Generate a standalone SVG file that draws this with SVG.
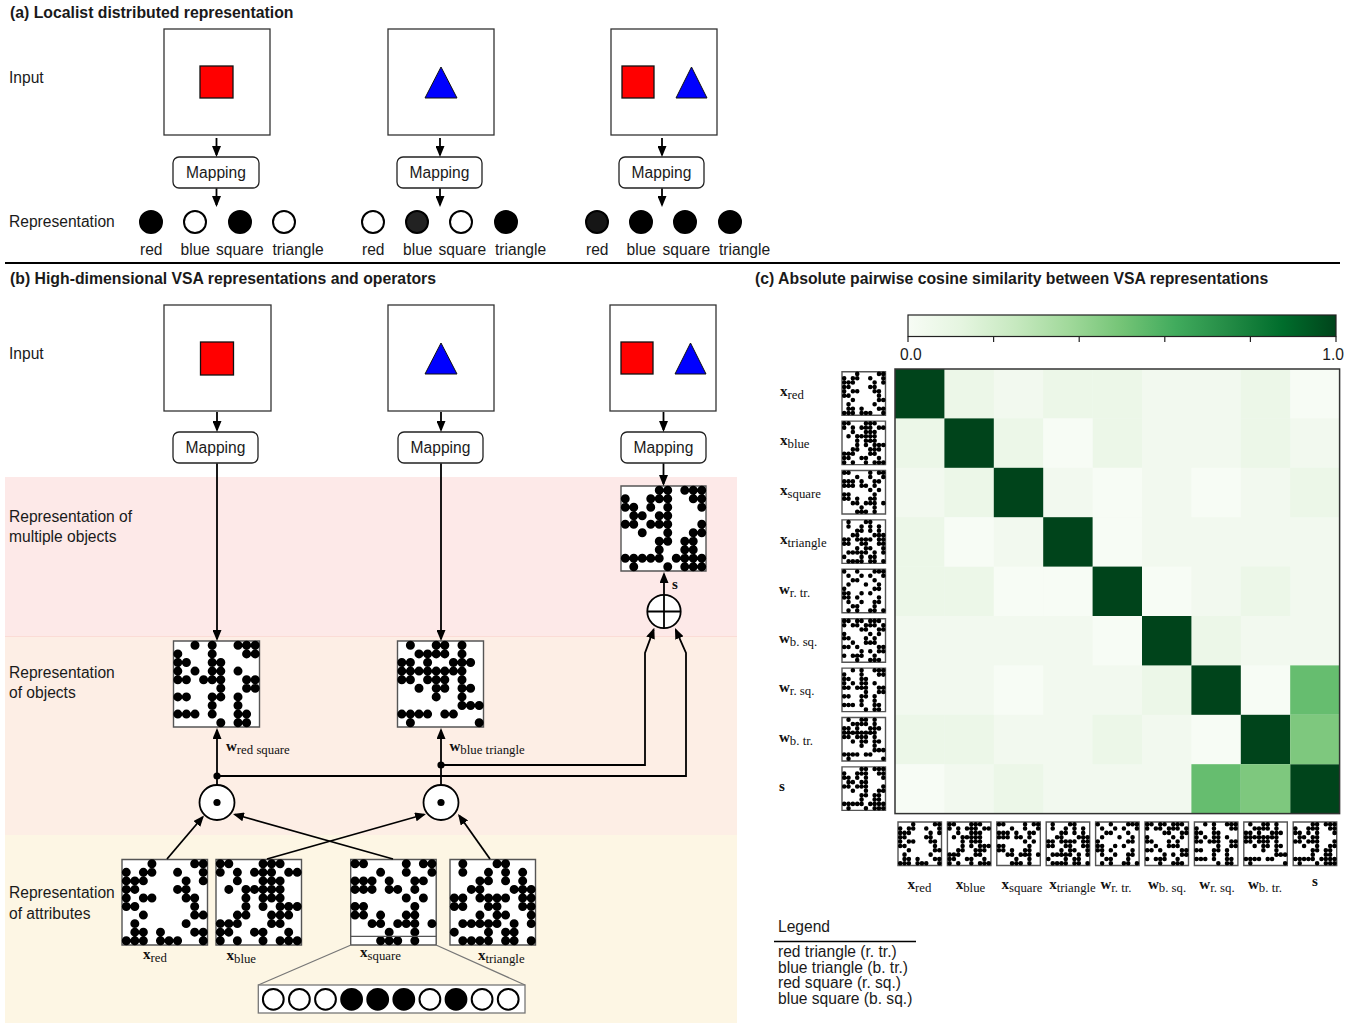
<svg xmlns="http://www.w3.org/2000/svg" xmlns:xlink="http://www.w3.org/1999/xlink" width="1372" height="1024" viewBox="0 0 1372 1024">
<style>
.t{font-family:"Liberation Sans",Arial,sans-serif;font-size:15.6px;fill:#1a1a1a}
.h{font-weight:bold;font-size:15.8px}
.sym{font-family:"Liberation Serif","Times New Roman",serif;font-weight:bold;font-size:15px;fill:#111}
.sub{font-weight:normal;font-size:12.8px}
.frame{fill:#fff;stroke:#333;stroke-width:1.3}
.map{fill:#fff;stroke:#222;stroke-width:1.3}
.red{fill:#f00;stroke:#111;stroke-width:1.3}
.blue{fill:#00f;stroke:#111;stroke-width:1}
.bit{stroke:#000;stroke-width:2}
.conn{fill:none;stroke:#000;stroke-width:1.8}
.zoomln{fill:none;stroke:#777;stroke-width:1.3}
.op{fill:#fff;stroke:#000;stroke-width:1.8}
.dots{fill:none;stroke:#000;stroke-width:1.05;stroke-linecap:round}
.mx{fill:#fff;stroke:#555;stroke-width:1.4;vector-effect:non-scaling-stroke}
</style>
<defs>
<marker id="ah" viewBox="0 0 11 9" refX="9" refY="4.5" markerWidth="11" markerHeight="9" markerUnits="userSpaceOnUse" orient="auto"><path d="M0 0L11 4.5L0 9z" fill="#000"/></marker>
<linearGradient id="greens" x1="0" y1="0" x2="1" y2="0">
<stop offset="0" stop-color="#f7fcf5"/><stop offset=".125" stop-color="#e5f5e0"/><stop offset=".25" stop-color="#c7e9c0"/><stop offset=".375" stop-color="#a1d99b"/><stop offset=".5" stop-color="#74c476"/><stop offset=".625" stop-color="#41ab5d"/><stop offset=".75" stop-color="#238b45"/><stop offset=".875" stop-color="#006d2c"/><stop offset="1" stop-color="#00441b"/>
</linearGradient>
<rect id="cell" width="49.4" height="49.4"/>
<!-- 10x10 binary hypervectors, unit grid -->
<g id="v-xred"><rect class="mx" width="10" height="10"/><path class="dots" d="M3.5 .5h0M8.5 .5h0M9.5 .5h0M.5 1.5h0M2.5 1.5h0M3.5 1.5h0M6.5 1.5h0M9.5 1.5h0M.5 2.5h0M1.5 2.5h0M2.5 2.5h0M7.5 2.5h0M9.5 2.5h0M.5 3.5h0M1.5 3.5h0M6.5 3.5h0M7.5 3.5h0M.5 4.5h0M2.5 4.5h0M3.5 4.5h0M7.5 4.5h0M8.5 4.5h0M.5 5.5h0M1.5 5.5h0M8.5 5.5h0M2.5 6.5h0M8.5 6.5h0M9.5 6.5h0M1.5 7.5h0M7.5 7.5h0M1.5 8.5h0M2.5 8.5h0M4.5 8.5h0M8.5 8.5h0M9.5 8.5h0M.5 9.5h0M1.5 9.5h0M2.5 9.5h0M4.5 9.5h0M5.5 9.5h0M6.5 9.5h0M9.5 9.5h0"/></g>
<g id="v-xblue"><rect class="mx" width="10" height="10"/><path class="dots" d="M.5 .5h0M1.5 .5h0M5.5 .5h0M6.5 .5h0M7.5 .5h0M.5 1.5h0M2.5 1.5h0M4.5 1.5h0M5.5 1.5h0M6.5 1.5h0M8.5 1.5h0M9.5 1.5h0M2.5 2.5h0M5.5 2.5h0M6.5 2.5h0M7.5 2.5h0M1.5 3.5h0M3.5 3.5h0M4.5 3.5h0M5.5 3.5h0M6.5 3.5h0M7.5 3.5h0M3.5 4.5h0M5.5 4.5h0M6.5 4.5h0M7.5 4.5h0M3.5 5.5h0M5.5 5.5h0M7.5 5.5h0M8.5 5.5h0M9.5 5.5h0M2.5 6.5h0M3.5 6.5h0M6.5 6.5h0M7.5 6.5h0M8.5 6.5h0M.5 7.5h0M1.5 7.5h0M2.5 7.5h0M6.5 7.5h0M7.5 7.5h0M.5 8.5h0M1.5 8.5h0M4.5 8.5h0M5.5 8.5h0M8.5 8.5h0M.5 9.5h0M2.5 9.5h0M5.5 9.5h0M7.5 9.5h0M8.5 9.5h0M9.5 9.5h0"/></g>
<g id="v-xsquare"><rect class="mx" width="10" height="10"/><path class="dots" d="M.5 .5h0M1.5 .5h0M6.5 .5h0M8.5 .5h0M9.5 .5h0M3.5 1.5h0M6.5 1.5h0M9.5 1.5h0M.5 2.5h0M1.5 2.5h0M2.5 2.5h0M4.5 2.5h0M7.5 2.5h0M8.5 2.5h0M.5 3.5h0M1.5 3.5h0M2.5 3.5h0M4.5 3.5h0M5.5 3.5h0M7.5 3.5h0M6.5 4.5h0M8.5 4.5h0M.5 5.5h0M1.5 5.5h0M7.5 5.5h0M.5 6.5h0M1.5 6.5h0M3.5 6.5h0M6.5 6.5h0M7.5 6.5h0M2.5 7.5h0M3.5 7.5h0M5.5 7.5h0M6.5 7.5h0M7.5 7.5h0M9.5 7.5h0M4.5 8.5h0M7.5 8.5h0M3.5 9.5h0M4.5 9.5h0M5.5 9.5h0M7.5 9.5h0"/></g>
<g id="v-xtriangle"><rect class="mx" width="10" height="10"/><path class="dots" d="M1.5 .5h0M5.5 .5h0M6.5 .5h0M1.5 1.5h0M4.5 1.5h0M6.5 1.5h0M8.5 1.5h0M3.5 2.5h0M4.5 2.5h0M6.5 2.5h0M8.5 2.5h0M2.5 3.5h0M3.5 3.5h0M7.5 3.5h0M8.5 3.5h0M9.5 3.5h0M.5 4.5h0M1.5 4.5h0M3.5 4.5h0M4.5 4.5h0M5.5 4.5h0M6.5 4.5h0M8.5 4.5h0M9.5 4.5h0M.5 5.5h0M1.5 5.5h0M4.5 5.5h0M5.5 5.5h0M8.5 5.5h0M9.5 5.5h0M3.5 6.5h0M5.5 6.5h0M6.5 6.5h0M9.5 6.5h0M1.5 7.5h0M2.5 7.5h0M3.5 7.5h0M4.5 7.5h0M5.5 7.5h0M7.5 7.5h0M9.5 7.5h0M.5 8.5h0M4.5 8.5h0M6.5 8.5h0M7.5 8.5h0M1.5 9.5h0M2.5 9.5h0M3.5 9.5h0M4.5 9.5h0M6.5 9.5h0M7.5 9.5h0M9.5 9.5h0"/></g>
<g id="v-wrtr"><rect class="mx" width="10" height="10"/><path class="dots" d="M.5 .5h0M3.5 .5h0M7.5 .5h0M8.5 .5h0M9.5 .5h0M1.5 1.5h0M4.5 1.5h0M6.5 1.5h0M9.5 1.5h0M2.5 2.5h0M3.5 2.5h0M7.5 2.5h0M1.5 3.5h0M5.5 3.5h0M8.5 3.5h0M.5 4.5h0M7.5 4.5h0M8.5 4.5h0M.5 5.5h0M1.5 5.5h0M4.5 5.5h0M6.5 5.5h0M.5 6.5h0M1.5 6.5h0M3.5 6.5h0M8.5 6.5h0M1.5 7.5h0M4.5 7.5h0M7.5 7.5h0M8.5 7.5h0M2.5 8.5h0M3.5 8.5h0M7.5 8.5h0M1.5 9.5h0M3.5 9.5h0M6.5 9.5h0M7.5 9.5h0M9.5 9.5h0"/></g>
<g id="v-wbsq"><rect class="mx" width="10" height="10"/><path class="dots" d="M.5 .5h0M1.5 .5h0M3.5 .5h0M4.5 .5h0M6.5 .5h0M7.5 .5h0M8.5 .5h0M.5 1.5h0M2.5 1.5h0M3.5 1.5h0M5.5 1.5h0M6.5 1.5h0M7.5 1.5h0M9.5 1.5h0M4.5 2.5h0M5.5 2.5h0M8.5 2.5h0M9.5 2.5h0M.5 3.5h0M6.5 3.5h0M8.5 3.5h0M.5 4.5h0M1.5 4.5h0M5.5 4.5h0M7.5 4.5h0M2.5 5.5h0M5.5 5.5h0M6.5 5.5h0M7.5 5.5h0M.5 6.5h0M1.5 6.5h0M3.5 6.5h0M8.5 6.5h0M9.5 6.5h0M4.5 7.5h0M6.5 7.5h0M8.5 7.5h0M9.5 7.5h0M.5 8.5h0M2.5 8.5h0M3.5 8.5h0M4.5 8.5h0M7.5 8.5h0M3.5 9.5h0M6.5 9.5h0M7.5 9.5h0M8.5 9.5h0"/></g>
<g id="v-wrsq"><rect class="mx" width="10" height="10"/><path class="dots" d="M2.5 .5h0M4.5 .5h0M7.5 .5h0M8.5 .5h0M9.5 .5h0M.5 1.5h0M4.5 1.5h0M8.5 1.5h0M9.5 1.5h0M.5 2.5h0M1.5 2.5h0M4.5 2.5h0M5.5 2.5h0M.5 3.5h0M2.5 3.5h0M4.5 3.5h0M5.5 3.5h0M7.5 3.5h0M.5 4.5h0M1.5 4.5h0M3.5 4.5h0M4.5 4.5h0M5.5 4.5h0M8.5 4.5h0M9.5 4.5h0M5.5 5.5h0M8.5 5.5h0M9.5 5.5h0M.5 6.5h0M1.5 6.5h0M4.5 6.5h0M5.5 6.5h0M7.5 6.5h0M4.5 7.5h0M7.5 7.5h0M.5 8.5h0M1.5 8.5h0M2.5 8.5h0M4.5 8.5h0M7.5 8.5h0M8.5 8.5h0M5.5 9.5h0M7.5 9.5h0M8.5 9.5h0"/></g>
<g id="v-wbtr"><rect class="mx" width="10" height="10"/><path class="dots" d="M1.5 .5h0M4.5 .5h0M5.5 .5h0M7.5 .5h0M2.5 1.5h0M3.5 1.5h0M4.5 1.5h0M5.5 1.5h0M7.5 1.5h0M.5 2.5h0M1.5 2.5h0M3.5 2.5h0M6.5 2.5h0M7.5 2.5h0M8.5 2.5h0M.5 3.5h0M1.5 3.5h0M2.5 3.5h0M3.5 3.5h0M4.5 3.5h0M5.5 3.5h0M6.5 3.5h0M7.5 3.5h0M.5 4.5h0M1.5 4.5h0M3.5 4.5h0M4.5 4.5h0M5.5 4.5h0M7.5 4.5h0M2.5 5.5h0M4.5 5.5h0M5.5 5.5h0M7.5 5.5h0M8.5 5.5h0M4.5 6.5h0M7.5 6.5h0M7.5 7.5h0M8.5 7.5h0M9.5 7.5h0M.5 8.5h0M1.5 8.5h0M2.5 8.5h0M3.5 8.5h0M5.5 8.5h0M6.5 8.5h0M1.5 9.5h0M9.5 9.5h0"/></g>
<g id="v-s"><rect class="mx" width="10" height="10"/><path class="dots" d="M4.5 .5h0M5.5 .5h0M7.5 .5h0M8.5 .5h0M9.5 .5h0M.5 1.5h0M3.5 1.5h0M4.5 1.5h0M5.5 1.5h0M8.5 1.5h0M9.5 1.5h0M.5 2.5h0M1.5 2.5h0M3.5 2.5h0M5.5 2.5h0M9.5 2.5h0M1.5 3.5h0M2.5 3.5h0M4.5 3.5h0M5.5 3.5h0M.5 4.5h0M1.5 4.5h0M3.5 4.5h0M4.5 4.5h0M5.5 4.5h0M9.5 4.5h0M2.5 5.5h0M5.5 5.5h0M8.5 5.5h0M9.5 5.5h0M4.5 6.5h0M5.5 6.5h0M7.5 6.5h0M8.5 6.5h0M4.5 7.5h0M7.5 7.5h0M8.5 7.5h0M.5 8.5h0M1.5 8.5h0M2.5 8.5h0M3.5 8.5h0M4.5 8.5h0M6.5 8.5h0M7.5 8.5h0M8.5 8.5h0M9.5 8.5h0M1.5 9.5h0M5.5 9.5h0M7.5 9.5h0M8.5 9.5h0M9.5 9.5h0"/></g>
</defs>

<rect width="1372" height="1024" fill="#fff"/>

<!-- ===== (a) localist representation ===== -->
<text class="t h" x="10" y="18">(a) Localist distributed representation</text>
<text class="t" x="9" y="83">Input</text>
<text class="t" x="9" y="227">Representation</text>

<g id="a-input-1"><rect class="frame" x="164" y="29" width="106" height="106"/><rect class="red" x="200" y="66" width="33" height="32"/></g>
<g id="a-input-2"><rect class="frame" x="388" y="29" width="106" height="106"/><polygon class="blue" points="441,67 425,98 457,98"/></g>
<g id="a-input-3"><rect class="frame" x="611" y="29" width="106" height="106"/><rect class="red" x="622" y="66" width="32" height="32"/><polygon class="blue" points="691.5,67 676,98 707,98"/></g>

<g id="a-map-1"><rect class="map" x="173" y="157" width="86" height="31" rx="6"/><text class="t" x="216" y="178" text-anchor="middle">Mapping</text></g>
<g id="a-map-2"><rect class="map" x="397" y="157" width="85" height="31" rx="6"/><text class="t" x="439.5" y="178" text-anchor="middle">Mapping</text></g>
<g id="a-map-3"><rect class="map" x="619" y="157" width="85" height="31" rx="6"/><text class="t" x="661.5" y="178" text-anchor="middle">Mapping</text></g>

<g id="a-rep-1">
<circle class="bit" cx="151" cy="222" r="11" fill="#000"/><circle class="bit" cx="195" cy="222" r="11" fill="#fff"/><circle class="bit" cx="240" cy="222" r="11" fill="#000"/><circle class="bit" cx="284" cy="222" r="11" fill="#fff"/>
<text class="t" x="140" y="255">red</text><text class="t" x="180.5" y="255">blue</text><text class="t" x="216" y="255">square</text><text class="t" x="272.5" y="255">triangle</text>
</g>
<g id="a-rep-2">
<circle class="bit" cx="373" cy="222" r="11" fill="#fff"/><circle class="bit" cx="417" cy="222" r="11" fill="#222"/><circle class="bit" cx="461" cy="222" r="11" fill="#fff"/><circle class="bit" cx="506" cy="222" r="11" fill="#000"/>
<text class="t" x="362" y="255">red</text><text class="t" x="403" y="255">blue</text><text class="t" x="438.5" y="255">square</text><text class="t" x="495" y="255">triangle</text>
</g>
<g id="a-rep-3">
<circle class="bit" cx="597" cy="222" r="11" fill="#161616"/><circle class="bit" cx="641" cy="222" r="11" fill="#000"/><circle class="bit" cx="685" cy="222" r="11" fill="#000"/><circle class="bit" cx="730" cy="222" r="11" fill="#000"/>
<text class="t" x="586" y="255">red</text><text class="t" x="626.5" y="255">blue</text><text class="t" x="662.5" y="255">square</text><text class="t" x="719" y="255">triangle</text>
</g>

<line x1="5" y1="263" x2="1340" y2="263" stroke="#000" stroke-width="2.2"/>

<!-- ===== (b) VSA representations ===== -->
<rect x="5" y="477" width="732" height="160" fill="#fde9e8"/>
<rect x="5" y="636.5" width="732" height="199" fill="#fdeee5"/>
<line x1="5" y1="636.5" x2="737" y2="636.5" stroke="#fbdcd6" stroke-width="1"/>
<rect x="5" y="835" width="732" height="188" fill="#fdf6e4"/>

<text class="t h" x="10" y="284">(b) High-dimensional VSA representations and operators</text>
<text class="t" x="9" y="359">Input</text>
<text class="t" x="9" y="522">Representation of</text>
<text class="t" x="9" y="542">multiple objects</text>
<text class="t" x="9" y="678">Representation</text>
<text class="t" x="9" y="698">of objects</text>
<text class="t" x="9" y="898">Representation</text>
<text class="t" x="9" y="919">of attributes</text>

<g id="b-input-1"><rect class="frame" x="164" y="305" width="107" height="106"/><rect class="red" x="200.5" y="342" width="33" height="33"/></g>
<g id="b-input-2"><rect class="frame" x="388" y="305" width="106" height="106"/><polygon class="blue" points="441,343 425,374 457,374"/></g>
<g id="b-input-3"><rect class="frame" x="610" y="305" width="106" height="106"/><rect class="red" x="621" y="342" width="32" height="32"/><polygon class="blue" points="690.5,343 675,374 706,374"/></g>

<g id="b-map-1"><rect class="map" x="173" y="432" width="85" height="31" rx="6"/><text class="t" x="215.5" y="453" text-anchor="middle">Mapping</text></g>
<g id="b-map-2"><rect class="map" x="398" y="432" width="85" height="31" rx="6"/><text class="t" x="440.5" y="453" text-anchor="middle">Mapping</text></g>
<g id="b-map-3"><rect class="map" x="621" y="432" width="85" height="31" rx="6"/><text class="t" x="663.5" y="453" text-anchor="middle">Mapping</text></g>

<g id="b-s"><use href="#v-s" transform="translate(621,486) scale(8.5)"/></g>
<g id="b-bundle"><circle class="op" cx="664" cy="611.5" r="16.7"/><path d="M647.3 611.5H680.7M664 594.8V628.2" stroke="#000" stroke-width="1.8"/></g>
<text class="sym" x="672" y="589" font-size="14">s</text>

<g id="b-w-redsquare"><use href="#v-wrsq" transform="translate(173.5,641) scale(8.6)"/>
<text class="sym" x="226" y="751">w<tspan class="sub" dy="3">red square</tspan></text></g>
<g id="b-w-bluetriangle"><use href="#v-wbtr" transform="translate(397.5,641) scale(8.6)"/>
<text class="sym" x="449.5" y="751">w<tspan class="sub" dy="3">blue triangle</tspan></text></g>

<g id="b-bind-1"><circle class="op" cx="217" cy="802.5" r="17.5"/><circle cx="217" cy="802.5" r="3.6" fill="#000"/></g>
<g id="b-bind-2"><circle class="op" cx="441" cy="802.5" r="17.5"/><circle cx="441" cy="802.5" r="3.6" fill="#000"/></g>

<g id="b-x-red"><use href="#v-xred" transform="translate(122,859.5) scale(8.55)"/>
<text class="sym" x="143" y="959">x<tspan class="sub" dy="3">red</tspan></text></g>
<g id="b-x-blue"><use href="#v-xblue" transform="translate(216,859.5) scale(8.55)"/>
<text class="sym" x="226.5" y="960">x<tspan class="sub" dy="3">blue</tspan></text></g>
<g id="b-x-square"><use href="#v-xsquare" transform="translate(350.7,859.5) scale(8.55)"/>
<line x1="350.7" y1="936.4" x2="436.2" y2="936.4" stroke="#555" stroke-width="1.3"/>
<text class="sym" x="360" y="957">x<tspan class="sub" dy="3">square</tspan></text></g>
<g id="b-x-triangle"><use href="#v-xtriangle" transform="translate(450,859.5) scale(8.55)"/>
<text class="sym" x="478" y="960">x<tspan class="sub" dy="3">triangle</tspan></text></g>

<g id="b-bits">
<path class="zoomln" d="M351 945L258.3 985M436 945L525 985"/>
<rect x="258.3" y="985" width="266.7" height="28" fill="#fff" stroke="#777" stroke-width="1.3"/>
<circle class="bit" cx="273.3" cy="999.3" r="10.4" fill="#fff"/>
<circle class="bit" cx="299.4" cy="999.3" r="10.4" fill="#fff"/>
<circle class="bit" cx="325.5" cy="999.3" r="10.4" fill="#fff"/>
<circle class="bit" cx="351.6" cy="999.3" r="10.4" fill="#000"/>
<circle class="bit" cx="377.7" cy="999.3" r="10.4" fill="#000"/>
<circle class="bit" cx="403.8" cy="999.3" r="10.4" fill="#000"/>
<circle class="bit" cx="429.9" cy="999.3" r="10.4" fill="#fff"/>
<circle class="bit" cx="456" cy="999.3" r="10.4" fill="#000"/>
<circle class="bit" cx="482.1" cy="999.3" r="10.4" fill="#fff"/>
<circle class="bit" cx="508.2" cy="999.3" r="10.4" fill="#fff"/>
</g>

<g id="connectors">
<path class="conn" marker-end="url(#ah)" d="M216.5 138V155"/>
<path class="conn" marker-end="url(#ah)" d="M216.5 188.5V205"/>
<path class="conn" marker-end="url(#ah)" d="M440 138V155"/>
<path class="conn" marker-end="url(#ah)" d="M440 188.5V205"/>
<path class="conn" marker-end="url(#ah)" d="M662 138V155"/>
<path class="conn" marker-end="url(#ah)" d="M662 188.5V205"/>
<path class="conn" marker-end="url(#ah)" d="M217 412V430"/>
<path class="conn" marker-end="url(#ah)" d="M441 412V430"/>
<path class="conn" marker-end="url(#ah)" d="M663.5 412V430"/>
<path class="conn" marker-end="url(#ah)" d="M217 463.5V639"/>
<path class="conn" marker-end="url(#ah)" d="M441 463.5V639"/>
<path class="conn" marker-end="url(#ah)" d="M663.5 463.5V484"/>
<path class="conn" marker-end="url(#ah)" d="M664 594.5V574"/>
<path class="conn" marker-end="url(#ah)" d="M217 785V730"/>
<path class="conn" marker-end="url(#ah)" d="M441 785V730"/>
<path class="conn" marker-end="url(#ah)" d="M217 776H686V653L675.8 629.8"/>
<path class="conn" marker-end="url(#ah)" d="M441 765H645V653L653.6 629.6"/>
<circle cx="217" cy="776" r="3.6" fill="#000"/>
<circle cx="441" cy="765" r="3.6" fill="#000"/>
<path class="conn" marker-end="url(#ah)" d="M167 859L202.7 817"/>
<path class="conn" marker-end="url(#ah)" d="M393 859L234.9 814.5"/>
<path class="conn" marker-end="url(#ah)" d="M267 859L424.1 814.5"/>
<path class="conn" marker-end="url(#ah)" d="M490 859L459.2 815.6"/>
</g>

<!-- ===== (c) similarity matrix ===== -->
<text class="t h" x="755" y="284">(c) Absolute pairwise cosine similarity between VSA representations</text>

<g id="c-colorbar">
<rect x="908" y="315" width="428" height="21.5" fill="url(#greens)" stroke="#222" stroke-width="1.2"/>
<path d="M908 336.5V342M993.6 336.5V342M1079.2 336.5V342M1164.8 336.5V342M1250.4 336.5V342M1336 336.5V342" stroke="#222" stroke-width="1.2"/>
<text class="t" x="900" y="360">0.0</text>
<text class="t" x="1344" y="360" text-anchor="end">1.0</text>
</g>

<g id="c-heatmap">
<rect x="895" y="369" width="444.6" height="444.6" fill="#f2f9ef"/>
<g fill="#ecf7e8">
<use href="#cell" x="944.4" y="369"/><use href="#cell" x="895" y="418.4"/>
<use href="#cell" x="1043.2" y="369"/><use href="#cell" x="895" y="517.2"/>
<use href="#cell" x="1092.6" y="369"/><use href="#cell" x="895" y="566.6"/>
<use href="#cell" x="1240.8" y="369"/><use href="#cell" x="895" y="714.8"/>
<use href="#cell" x="993.8" y="418.4"/><use href="#cell" x="944.4" y="467.8"/>
<use href="#cell" x="1092.6" y="418.4"/><use href="#cell" x="944.4" y="566.6"/>
<use href="#cell" x="1240.8" y="418.4"/><use href="#cell" x="944.4" y="714.8"/>
<use href="#cell" x="1290.2" y="467.8"/><use href="#cell" x="993.8" y="764.2"/>
<use href="#cell" x="1240.8" y="566.6"/><use href="#cell" x="1092.6" y="714.8"/>
<use href="#cell" x="1191.4" y="616"/><use href="#cell" x="1142" y="665.4"/>
</g>
<g fill="#f7fcf5">
<use href="#cell" x="1290.2" y="369"/><use href="#cell" x="895" y="764.2"/>
<use href="#cell" x="1043.2" y="418.4"/><use href="#cell" x="944.4" y="517.2"/>
<use href="#cell" x="1092.6" y="467.8"/><use href="#cell" x="993.8" y="566.6"/>
<use href="#cell" x="1191.4" y="467.8"/><use href="#cell" x="993.8" y="665.4"/>
<use href="#cell" x="1092.6" y="517.2"/><use href="#cell" x="1043.2" y="566.6"/>
<use href="#cell" x="1142" y="566.6"/><use href="#cell" x="1092.6" y="616"/>
<use href="#cell" x="1240.8" y="665.4"/><use href="#cell" x="1191.4" y="714.8"/>
</g>
<g fill="#00441b">
<use href="#cell" x="895" y="369"/><use href="#cell" x="944.4" y="418.4"/><use href="#cell" x="993.8" y="467.8"/>
<use href="#cell" x="1043.2" y="517.2"/><use href="#cell" x="1092.6" y="566.6"/><use href="#cell" x="1142" y="616"/>
<use href="#cell" x="1191.4" y="665.4"/><use href="#cell" x="1240.8" y="714.8"/><use href="#cell" x="1290.2" y="764.2"/>
</g>
<use href="#cell" x="1290.2" y="665.4" fill="#66bd6f"/><use href="#cell" x="1191.4" y="764.2" fill="#66bd6f"/>
<use href="#cell" x="1290.2" y="714.8" fill="#7ec87e"/><use href="#cell" x="1240.8" y="764.2" fill="#7ec87e"/>
<rect x="895" y="369" width="444.6" height="444.6" fill="none" stroke="#333" stroke-width="1.5"/>
</g>

<g id="c-rows">
<use href="#v-xred" transform="translate(842,371.7) scale(4.35)"/>
<use href="#v-xblue" transform="translate(842,421.1) scale(4.35)"/>
<use href="#v-xsquare" transform="translate(842,470.5) scale(4.35)"/>
<use href="#v-xtriangle" transform="translate(842,519.9) scale(4.35)"/>
<use href="#v-wrtr" transform="translate(842,569.3) scale(4.35)"/>
<use href="#v-wbsq" transform="translate(842,618.7) scale(4.35)"/>
<use href="#v-wrsq" transform="translate(842,668.1) scale(4.35)"/>
<use href="#v-wbtr" transform="translate(842,717.5) scale(4.35)"/>
<use href="#v-s" transform="translate(842,766.9) scale(4.35)"/>
<text class="sym" x="780" y="396">x<tspan class="sub" dy="3">red</tspan></text>
<text class="sym" x="780" y="445.4">x<tspan class="sub" dy="3">blue</tspan></text>
<text class="sym" x="780" y="494.8">x<tspan class="sub" dy="3">square</tspan></text>
<text class="sym" x="780" y="544.2">x<tspan class="sub" dy="3">triangle</tspan></text>
<text class="sym" x="779" y="593.6">w<tspan class="sub" dy="3">r. tr.</tspan></text>
<text class="sym" x="779" y="643">w<tspan class="sub" dy="3">b. sq.</tspan></text>
<text class="sym" x="779" y="692.4">w<tspan class="sub" dy="3">r. sq.</tspan></text>
<text class="sym" x="779" y="741.8">w<tspan class="sub" dy="3">b. tr.</tspan></text>
<text class="sym" x="779" y="791.2">s</text>
</g>

<g id="c-cols">
<use href="#v-xred" transform="translate(898,822) scale(4.35)"/>
<use href="#v-xblue" transform="translate(947.4,822) scale(4.35)"/>
<use href="#v-xsquare" transform="translate(996.8,822) scale(4.35)"/>
<use href="#v-xtriangle" transform="translate(1046.2,822) scale(4.35)"/>
<use href="#v-wrtr" transform="translate(1095.6,822) scale(4.35)"/>
<use href="#v-wbsq" transform="translate(1145,822) scale(4.35)"/>
<use href="#v-wrsq" transform="translate(1194.4,822) scale(4.35)"/>
<use href="#v-wbtr" transform="translate(1243.8,822) scale(4.35)"/>
<use href="#v-s" transform="translate(1293.2,822) scale(4.35)"/>
<text class="sym" x="919.5" y="889" text-anchor="middle">x<tspan class="sub" dy="3">red</tspan></text>
<text class="sym" x="970.5" y="889" text-anchor="middle">x<tspan class="sub" dy="3">blue</tspan></text>
<text class="sym" x="1022" y="889" text-anchor="middle">x<tspan class="sub" dy="3">square</tspan></text>
<text class="sym" x="1072.5" y="889" text-anchor="middle">x<tspan class="sub" dy="3">triangle</tspan></text>
<text class="sym" x="1116" y="889" text-anchor="middle">w<tspan class="sub" dy="3">r. tr.</tspan></text>
<text class="sym" x="1167" y="889" text-anchor="middle">w<tspan class="sub" dy="3">b. sq.</tspan></text>
<text class="sym" x="1217" y="889" text-anchor="middle">w<tspan class="sub" dy="3">r. sq.</tspan></text>
<text class="sym" x="1265" y="889" text-anchor="middle">w<tspan class="sub" dy="3">b. tr.</tspan></text>
<text class="sym" x="1315" y="886" text-anchor="middle">s</text>
</g>

<g id="c-legend">
<text class="t" x="778" y="932">Legend</text>
<line x1="774" y1="941.5" x2="916" y2="941.5" stroke="#000" stroke-width="1.3"/>
<text class="t" x="778" y="957">red triangle (r. tr.)</text>
<text class="t" x="778" y="972.5">blue triangle (b. tr.)</text>
<text class="t" x="778" y="988">red square (r. sq.)</text>
<text class="t" x="778" y="1003.5">blue square (b. sq.)</text>
</g>
</svg>
